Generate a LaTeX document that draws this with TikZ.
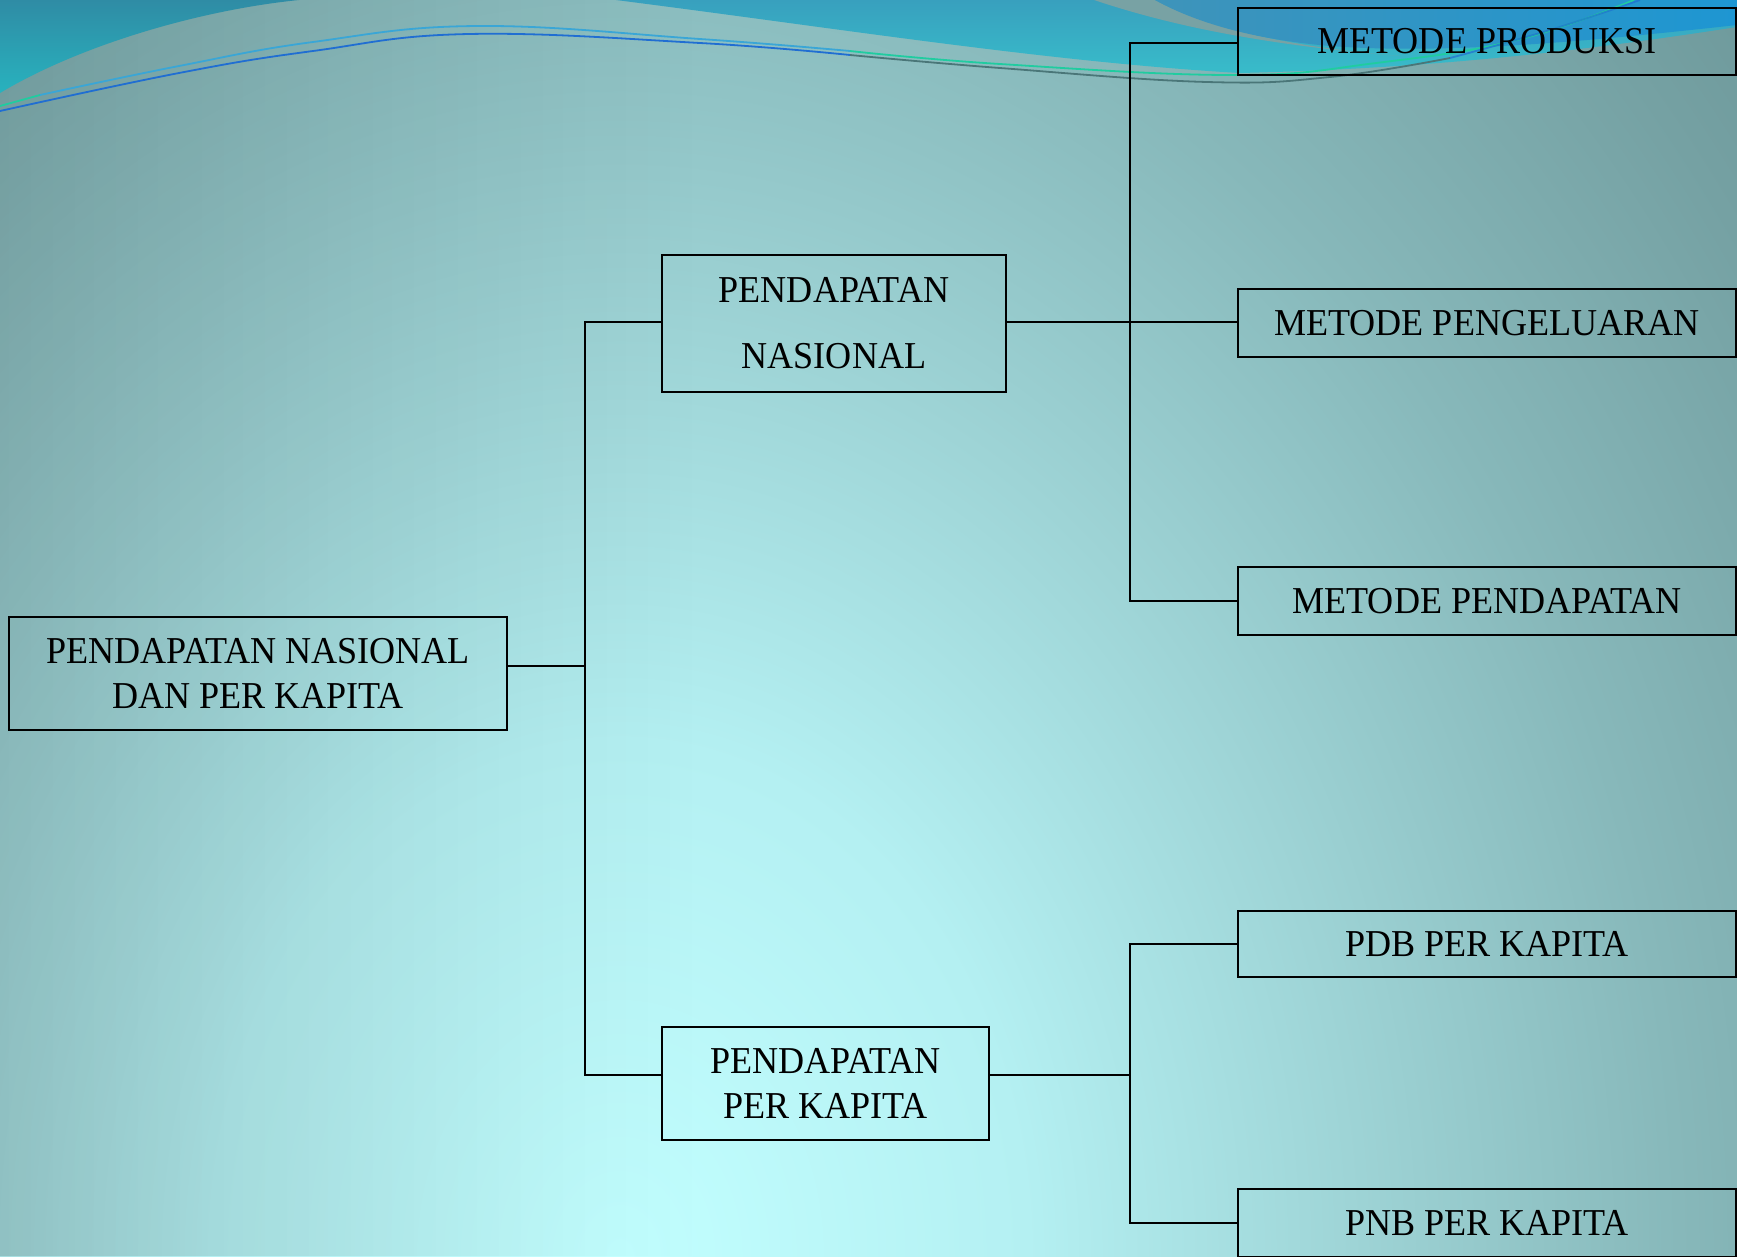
\documentclass[tikz,border=0pt]{standalone}
\usepackage{fontspec}
\setmainfont{Liberation Serif}[FakeStretch=0.95]
\usetikzlibrary{fadings}
\definecolor{bg0}{RGB}{194,255,255}
\definecolor{bg1}{RGB}{180,240,242}
\definecolor{bg2}{RGB}{158,212,214}
\definecolor{bg3}{RGB}{135,184,186}
\definecolor{bg4}{RGB}{117,161,163}
\definecolor{bg5}{RGB}{104,146,148}
\definecolor{bg6}{RGB}{96,136,138}
\definecolor{tlA}{RGB}{47,140,165}
\definecolor{tlB}{RGB}{40,178,190}
\definecolor{tbA}{RGB}{56,160,190}
\definecolor{tbB}{RGB}{56,188,202}
\definecolor{gstripe}{RGB}{120,162,164}
\definecolor{blA}{RGB}{62,148,186}
\definecolor{blB}{RGB}{30,150,210}
\definecolor{lnblue}{RGB}{58,166,214}
\definecolor{lngreen}{RGB}{32,204,160}
\definecolor{lndeep}{RGB}{32,110,210}
\definecolor{lngray}{RGB}{74,118,120}
\pgfdeclareradialshading{bgsh}{\pgfpoint{0bp}{0bp}}{color(0bp)=(bg0); color(8.84bp)=(bg1); color(15.9bp)=(bg2); color(23bp)=(bg3); color(30bp)=(bg4); color(35.4bp)=(bg5); color(50bp)=(bg6)}
\begin{document}
\begin{tikzpicture}[x=1pt,y=-1pt,
  box/.style={draw=black, line width=2pt, inner sep=0pt, align=center,
    font=\fontsize{38}{45}\selectfont},
  conn/.style={line width=2pt, draw=black},
  wave/.style={line width=1.8pt}]
\useasboundingbox (0,0) rectangle (1737,1256);
% background
\begin{scope}
\clip (0,0) rectangle (1737,1256);
\shade[shading=bgsh] (-530,-194) rectangle (1770,2706);
\fill[black, opacity=0.13, path fading=east] (0,0) rectangle (700,1256);
% top decoration
\shade[top color=tlA, bottom color=tlB] (0,0) -- (0,93) .. controls (80,45) and (200,10) .. (299,0) -- cycle;
\shade[top color=tbA, bottom color=tbB] (616,0) -- (1737,0) -- (1737,27)
  .. controls (1600,48) and (1450,68) .. (1240,73)
  .. controls (1050,62) and (850,30) .. (616,0) -- cycle;
\fill[gstripe] (1094,0) .. controls (1160,22) and (1250,44) .. (1400,56)
  .. controls (1300,48) and (1210,30) .. (1155,0) -- cycle;
\shade[left color=blA, right color=blB] (1155,0) -- (1737,0) -- (1737,25)
  .. controls (1600,40) and (1450,55) .. (1330,46)
  .. controls (1260,40) and (1200,25) .. (1155,0) -- cycle;
\draw[wave, lngreen] plot[smooth, tension=0.7] coordinates {(0,106) (40,95)};
\draw[wave, lnblue] plot[smooth, tension=0.7] coordinates {(40,95) (179,66) (313,42) (478,26) (700,39) (850,51)};
\draw[wave, lngreen] plot[smooth, tension=0.7] coordinates {(850,51) (1000,64) (1235,75) (1376,63) (1517,40) (1634,0)};
\draw[wave, lndeep] plot[smooth, tension=0.7] coordinates {(0,111) (179,73) (313,51) (469,34) (700,43) (850,55)};
\draw[wave, lngray] plot[smooth, tension=0.7] coordinates {(850,55) (1000,68) (1207,82) (1330,77) (1450,58)};
\draw[wave, lndeep, opacity=0.7] plot[smooth, tension=0.7] coordinates {(1450,58) (1550,30) (1640,0)};
\end{scope}
% boxes
\node[box, minimum width=498pt, minimum height=113pt] (root) at (258,673.5) {PENDAPATAN NASIONAL\\DAN PER KAPITA};
\node[box, minimum width=344pt, minimum height=137pt, font=\fontsize{38}{66}\selectfont] (pn) at (834,323.5) {PENDAPATAN\\NASIONAL};
\node[box, minimum width=327pt, minimum height=113pt] (pk) at (825.5,1083.5) {PENDAPATAN\\PER KAPITA};
\node[box, minimum width=498pt, minimum height=67pt] (mp) at (1487,41.5) {METODE PRODUKSI};
\node[box, minimum width=498pt, minimum height=68pt] (mpeng) at (1487,323) {METODE PENGELUARAN};
\node[box, minimum width=498pt, minimum height=68pt] (mpend) at (1487,601) {METODE PENDAPATAN};
\node[box, minimum width=498pt, minimum height=66pt] (pdb) at (1487,944) {PDB PER KAPITA};
\node[box, minimum width=498pt, minimum height=68pt] (pnb) at (1487,1223) {PNB PER KAPITA};
% bus coordinates
\coordinate (b1top) at (585,322);
\coordinate (b1mid) at (585,666);
\coordinate (b1bot) at (585,1075);
\coordinate (b2top) at (1130,43);
\coordinate (b2mid) at (1130,322);
\coordinate (b2bot) at (1130,601);
\coordinate (b3top) at (1130,944);
\coordinate (b3mid) at (1130,1075);
\coordinate (b3bot) at (1130,1223);
% connectors
\draw[conn] (root.east |- b1mid) -- (b1mid);
\draw[conn] (pn.west |- b1top) -- (b1top) -- (b1bot) -- (pk.west |- b1bot);
\draw[conn] (pn.east |- b2mid) -- (mpeng.west |- b2mid);
\draw[conn] (mp.west |- b2top) -- (b2top) -- (b2bot) -- (mpend.west);
\draw[conn] (pk.east |- b3mid) -- (b3mid);
\draw[conn] (pdb.west) -- (b3top) -- (b3bot) -- (pnb.west);
\end{tikzpicture}
\end{document}
